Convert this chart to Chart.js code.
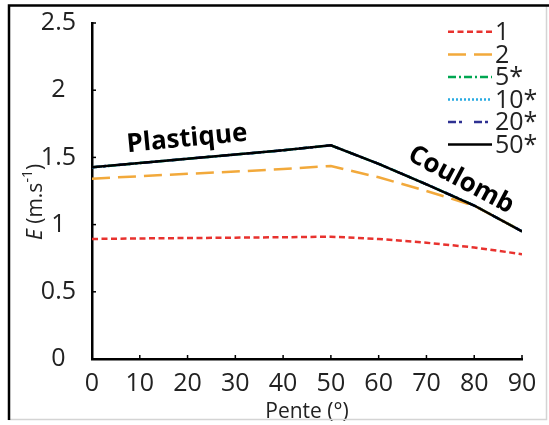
<!DOCTYPE html>
<html>
<head>
<meta charset="utf-8">
<script src="https://cdn.jsdelivr.net/npm/chart.js@4/dist/chart.umd.min.js"></script>
<style>
    html, body { margin: 0; padding: 0; background: #fff; }
    #chart { display: block; }
</style>
</head>
<body>
<canvas id="chart" width="549" height="425"></canvas>
<script>
// slope angles (degrees)
const slopes = [0, 10, 20, 30, 40, 50, 60, 70, 80, 90];
// E (m/s) per series
const series1 = [0.893, 0.897, 0.900, 0.903, 0.906, 0.910, 0.893, 0.865, 0.830, 0.780];
const series2 = [1.342, 1.360, 1.378, 1.395, 1.413, 1.436, 1.352, 1.250, 1.140, 0.950];
const series5 = [1.426, 1.458, 1.490, 1.521, 1.553, 1.590, 1.452, 1.300, 1.142, 0.950];
const series10 = [1.426, 1.458, 1.490, 1.521, 1.553, 1.590, 1.452, 1.300, 1.142, 0.950];
const series20 = [1.426, 1.458, 1.490, 1.521, 1.553, 1.590, 1.452, 1.300, 1.142, 0.950];
const series50 = [1.426, 1.458, 1.490, 1.521, 1.553, 1.590, 1.452, 1.300, 1.142, 0.950];
const yTicks = [0, 0.5, 1, 1.5, 2, 2.5];
const xTicks = [0, 10, 20, 30, 40, 50, 60, 70, 80, 90];

const FONT = '"Open Sans", "DejaVu Sans", sans-serif';

const SERIES = [
    {label: '1', data: series1, color: '#e8322e', dash: [6, 3.5]},
    {label: '2', data: series2, color: '#f2a93b', dash: [18, 8]},
    {label: '5*', data: series5, color: '#00a651', dash: [8, 3, 2, 3]},
    {label: '10*', data: series10, color: '#29abe2', dash: [2, 2]},
    {label: '20*', data: series20, color: '#2e3192', dash: [8, 3, 3, 12]},
    {label: '50*', data: series50, color: '#000000', dash: []},
];

function toPoints(values) {
    return slopes.map((s, i) => ({x: s, y: values[i]}));
}

const datasets = SERIES.map((s, i) => ({
    label: s.label,
    data: toPoints(s.data),
    borderColor: s.color,
    borderWidth: 2.5,
    borderDash: s.dash,
    pointRadius: 0,
    tension: 0,
    fill: false,
    // black on top, then red / orange, hidden ones below
    order: s.label === '50*' ? 0 : (i < 2 ? 1 : 5 - i + 2)
}));

const decorPlugin = {
    id: 'decor',
    afterDraw(chart) {
        const ctx = chart.ctx;
        const xs = chart.scales.x;
        const ys = chart.scales.y;
        ctx.save();

        // inward tick marks
        ctx.strokeStyle = '#000';
        ctx.lineWidth = 1.5;
        ctx.setLineDash([]);
        yTicks.forEach(v => {
            const y = ys.getPixelForValue(v);
            ctx.beginPath();
            ctx.moveTo(xs.left, y);
            ctx.lineTo(xs.left + 4, y);
            ctx.stroke();
        });
        xTicks.forEach(v => {
            const x = xs.getPixelForValue(v);
            ctx.beginPath();
            ctx.moveTo(x, ys.bottom);
            ctx.lineTo(x, ys.bottom - 4);
            ctx.stroke();
        });

        // y axis title
        ctx.fillStyle = '#222';
        ctx.textBaseline = 'alphabetic';
        ctx.translate(42, 202);
        ctx.rotate(-Math.PI / 2);
        const parts = [
            {t: 'E', f: 'italic 21px ' + FONT, dy: 0},
            {t: ' (m.s', f: '21px ' + FONT, dy: 0},
            {t: '-1', f: '14px ' + FONT, dy: -10},
            {t: ')', f: '21px ' + FONT, dy: 0},
        ];
        let total = 0;
        parts.forEach(p => { ctx.font = p.f; p.w = ctx.measureText(p.t).width; total += p.w; });
        let px = -total / 2;
        parts.forEach(p => {
            ctx.font = p.f;
            ctx.textAlign = 'left';
            ctx.fillText(p.t, px, p.dy);
            px += p.w;
        });
        ctx.restore();

        // annotations
        ctx.save();
        ctx.fillStyle = '#000';
        ctx.font = 'bold 26px ' + FONT;
        ctx.textAlign = 'center';
        ctx.textBaseline = 'middle';
        ctx.translate(187, 139);
        ctx.rotate(-5.5 * Math.PI / 180);
        ctx.fillText('Plastique', 0, 0);
        ctx.restore();

        ctx.save();
        ctx.fillStyle = '#000';
        ctx.font = 'bold 26px ' + FONT;
        ctx.textAlign = 'center';
        ctx.textBaseline = 'middle';
        ctx.translate(461, 180);
        ctx.rotate(28 * Math.PI / 180);
        ctx.fillText('Coulomb', 0, 0);
        ctx.restore();

        // legend
        ctx.save();
        const rowY = [31.7, 54.5, 77, 99.5, 122, 144.5];
        SERIES.forEach((s, i) => {
            const y = rowY[i];
            ctx.strokeStyle = s.color;
            ctx.lineWidth = 2.5;
            ctx.setLineDash(s.dash);
            ctx.beginPath();
            ctx.moveTo(448, y);
            ctx.lineTo(492, y);
            ctx.stroke();
            ctx.setLineDash([]);
            ctx.fillStyle = '#222';
            ctx.font = '25px ' + FONT;
            ctx.textAlign = 'left';
            ctx.textBaseline = 'alphabetic';
            ctx.fillText(s.label, 495, y + 8);
        });
        ctx.restore();

        // outer frame
        ctx.save();
        ctx.strokeStyle = '#d4d4d4';
        ctx.lineWidth = 1.5;
        ctx.beginPath();
        ctx.moveTo(546.5, 5);
        ctx.lineTo(546.5, 419.5);
        ctx.lineTo(8, 419.5);
        ctx.stroke();
        ctx.strokeStyle = '#000';
        ctx.lineWidth = 2.5;
        ctx.beginPath();
        ctx.moveTo(9, 420);
        ctx.lineTo(9, 5.5);
        ctx.lineTo(549, 5.5);
        ctx.stroke();
        ctx.restore();
    }
};

new Chart(document.getElementById('chart'), {
    type: 'line',
    data: {datasets: datasets},
    options: {
        responsive: false,
        devicePixelRatio: 1,
        animation: false,
        layout: {padding: {left: 0, top: 23, right: 27, bottom: 0}},
        plugins: {
            legend: {display: false},
            tooltip: {enabled: false}
        },
        scales: {
            x: {
                type: 'linear',
                min: 0,
                max: 90,
                afterFit: scale => { scale.height = 66; },
                afterBuildTicks: scale => { scale.ticks = xTicks.map(v => ({value: v})); },
                grid: {display: false},
                border: {display: true, color: '#000', width: 2.5},
                ticks: {
                    color: '#222',
                    font: {family: FONT, size: 25},
                    padding: 2,
                    maxRotation: 0,
                    callback: v => String(v)
                },
                title: {
                    display: true,
                    text: 'Pente (°)',
                    color: '#222',
                    font: {family: FONT, size: 21},
                    padding: {top: -6, bottom: 0}
                }
            },
            y: {
                min: 0,
                max: 2.5,
                afterFit: scale => { scale.width = 92; },
                afterBuildTicks: scale => { scale.ticks = yTicks.map(v => ({value: v})); },
                grid: {display: false},
                border: {display: true, color: '#000', width: 2.5},
                ticks: {
                    color: '#222',
                    font: {family: FONT, size: 25},
                    padding: 8,
                    crossAlign: 'center',
                    callback: v => String(v)
                }
            }
        }
    },
    plugins: [decorPlugin]
});
</script>
</body>
</html>
